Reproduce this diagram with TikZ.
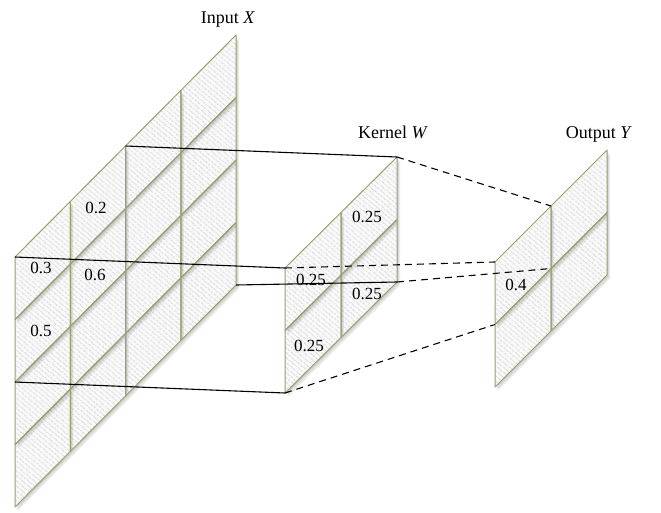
\documentclass[tikz,border=0pt]{standalone}
\usepackage{fontspec}
\setmainfont{Liberation Serif}
\usetikzlibrary{patterns.meta}
\definecolor{gridline}{RGB}{152,160,108}
\tikzset{
  cellfill/.style={preaction={fill=gray!5},
    pattern={Lines[angle=-40,distance=4pt,line width=1.7pt]}, pattern color=gray!22},
  celledge/.style={draw=gridline, line width=1pt, line join=round},
  cellshade/.style={fill=black, opacity=.07},
  link/.style={line width=1.1pt, draw=black},
  dlink/.style={link, dash pattern=on 7pt off 5pt},
  title/.style={font=\fontsize{18}{20}\selectfont, anchor=base},
  val/.style={font=\fontsize{17}{19}\selectfont, inner sep=0pt}
}
% #1 name, #2/#3 top-left corner, #4/#5 step along a column, #6 columns, #7 rows
\newcommand\drawlayer[7]{%
  \foreach \j in {0,...,#7}{\foreach \i in {0,...,#6}{
    \coordinate (#1-\i-\j) at ({#2+\i*#4},{#3+\i*#5+\j*62.5});}}
  \pgfmathtruncatemacro\lastc{#6-1}
  \pgfmathtruncatemacro\lastr{#7-1}
  \foreach \j in {\lastr,...,0}{\foreach \i in {\lastc,...,0}{
    \pgfmathtruncatemacro\ii{\i+1}\pgfmathtruncatemacro\jj{\j+1}
    \foreach \s in {1,2,3}{
      \fill[cellshade] ([xshift=\s pt,yshift=-1.25*\s pt]#1-\i-\j)
        -- ([xshift=\s pt,yshift=-1.25*\s pt]#1-\ii-\j)
        -- ([xshift=\s pt,yshift=-1.25*\s pt]#1-\ii-\jj)
        -- ([xshift=\s pt,yshift=-1.25*\s pt]#1-\i-\jj) -- cycle;}
    \path[cellfill] (#1-\i-\j) -- (#1-\ii-\j) -- (#1-\ii-\jj) -- (#1-\i-\jj) -- cycle;
  }}
  \foreach \j in {0,...,\lastr}{\foreach \i in {0,...,\lastc}{
    \pgfmathtruncatemacro\ii{\i+1}\pgfmathtruncatemacro\jj{\j+1}
    \path[celledge] (#1-\i-\j) -- (#1-\ii-\j) -- (#1-\ii-\jj) -- (#1-\i-\jj) -- cycle;
  }}%
}
\begin{document}
\begin{tikzpicture}[x=1pt,y=-1pt]
\useasboundingbox (0,0) rectangle (661,512);

% the three layers
\drawlayer{X}{15}{257}{55.25}{-55.5}{4}{4}
\drawlayer{W}{285}{268}{56}{-55.5}{2}{2}
\drawlayer{Y}{495}{262}{56}{-56}{2}{2}

% headings
\node[title] (tx) at (228,23) {Input \textit{X}};
\node[title] (tw) at (393,138) {Kernel \textit{W}};
\node[title] (ty) at (599,138) {Output \textit{Y}};

% cell values
\node[val] (x10) at (96,208) {0.2};
\node[val] (x00) at (41,268) {0.3};
\node[val] (x11) at (95,275) {0.6};
\node[val] (x01) at (41,331) {0.5};
\node[val] (w10) at (367,217) {0.25};
\node[val] (w00) at (311,280) {0.25};
\node[val] (w11) at (367,294) {0.25};
\node[val] (w01) at (309,346) {0.25};
\node[val] (y00) at (516,285) {0.4};

% receptive field: input -> kernel
\draw[link] (X-2-0) -- (W-2-0);
\draw[link] (X-0-0) -- (W-0-0);
\draw[link] (X-4-4) -- (W-2-2);
\draw[link] (X-0-2) -- (W-0-2);

% kernel -> output
\draw[dlink] (W-2-0) -- (Y-1-0);
\draw[dlink] (W-0-0) -- (Y-0-0);
\draw[dlink] (W-2-2) -- (Y-1-1);
\draw[dlink] (W-0-2) -- (Y-0-1);
\end{tikzpicture}
\end{document}
